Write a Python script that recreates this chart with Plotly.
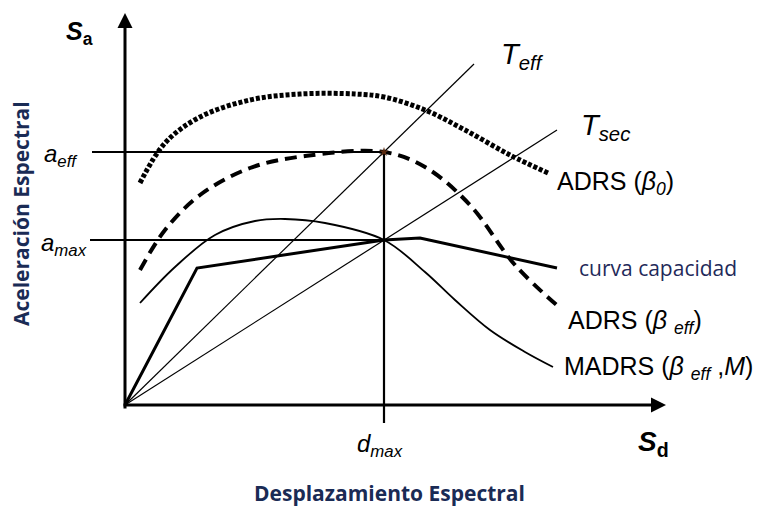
import plotly.graph_objects as go

# Data (units: spectral displacement Sd, spectral acceleration Sa; arbitrary units)
d_max = 259
a_eff = 253
a_max = 165

# Capacity curve
cap_sd = [0, 72, 259, 295, 432]
cap_sa = [0, 137, 165, 167, 137]

# ADRS (beta_0) - dotted
adrs0_sd = [15, 40, 75, 125, 175, 230, 259, 300, 340, 385, 423]
adrs0_sa = [222, 262, 288, 305, 311, 311, 308, 295, 275, 250, 232]

# ADRS (beta_eff) - dashed
adrseff_sd = [15, 40, 75, 125, 180, 259, 300, 345, 390, 435]
adrseff_sa = [135, 175, 210, 237, 249, 253, 238, 200, 140, 97]

# MADRS (beta_eff, M) - thin solid
madrs_sd = [15, 50, 90, 130, 160, 200, 259, 300, 330, 365, 400, 428]
madrs_sa = [102, 138, 170, 184, 186, 182, 165, 133, 105, 75, 53, 38]

# Period lines
teff_sd = [0, 349]
teff_sa = [0, 341]
tsec_sd = [0, 432]
tsec_sa = [0, 275]

fig = go.Figure()

def line(x, y, width=1.5, dash="solid", shape="linear", color="black"):
    fig.add_trace(go.Scatter(x=x, y=y, mode="lines",
                             line=dict(color=color, width=width, dash=dash, shape=shape),
                             hoverinfo="skip", showlegend=False))

# reference lines a_eff, a_max, d_max
line([-33, d_max], [a_eff, a_eff], width=2)
line([-35, d_max], [a_max, a_max], width=2)
line([d_max, d_max], [-18, a_eff], width=2.2)

# period lines
line(teff_sd, teff_sa, width=1.2)
line(tsec_sd, tsec_sa, width=1.2)

# spectra
line(adrs0_sd, adrs0_sa, width=5, dash="4px,2px", shape="spline")
line(adrseff_sd, adrseff_sa, width=4, dash="12px,7px", shape="spline")
line(madrs_sd, madrs_sa, width=1.8, shape="spline")
line(cap_sd, cap_sa, width=3)

# performance point marker
fig.add_trace(go.Scatter(x=[d_max], y=[a_eff], mode="markers",
                         marker=dict(symbol="star", size=7, color="#5a2a10"),
                         hoverinfo="skip", showlegend=False))

# axes with arrows
fig.add_annotation(x=0, y=392, ax=0, ay=-5, xref="x", yref="y", axref="x", ayref="y",
                   showarrow=True, arrowhead=2, arrowsize=1, arrowwidth=3, arrowcolor="black", text="")
fig.add_annotation(x=541, y=0, ax=-3, ay=0, xref="x", yref="y", axref="x", ayref="y",
                   showarrow=True, arrowhead=2, arrowsize=1, arrowwidth=3, arrowcolor="black", text="")

F = "Liberation Sans, Arial"
def txt(x, y, t, size=16, color="black", xanchor="left", family=F, angle=0):
    fig.add_annotation(x=x, y=y, xref="x", yref="y", text=t, showarrow=False,
                       font=dict(size=size, color=color, family=family),
                       xanchor=xanchor, yanchor="middle", textangle=angle)

txt(-61, 372, "<b><i>S</i></b><b><sub>a</sub></b>", size=25)
txt(511, -38, "<b><i>S</i></b><b><sub>d</sub></b>", size=28)
txt(-83, 250, "<i>a<sub>eff</sub></i>", size=24)
txt(-86, 161, "<i>a<sub>max</sub></i>", size=24)
txt(255, -40, "<i>d<sub>max</sub></i>", size=24, xanchor="center")
txt(374, 349, "<i>T<sub>eff</sub></i>", size=29)
txt(454, 278, "<i>T<sub>sec</sub></i>", size=29)
txt(430, 222, "ADRS (<i>β<sub>0</sub></i>)", size=25)
txt(452, 137, "curva capacidad", size=21, color="#1f2a5a", family="Open Sans")
txt(441, 83, "ADRS (<i>β <sub>eff</sub></i>)", size=25)
txt(437, 37, "MADRS (<i>β <sub>eff</sub></i> ,<i>M</i>)", size=25)

txt(264, -88, "<b>Desplazamiento Espectral</b>", size=21, color="#1a2b55",
    family="Open Sans", xanchor="center")
txt(-104, 191, "<b>Aceleración Espectral</b>", size=21, color="#1a2b55",
    family="Open Sans", xanchor="center", angle=-90)

fig.update_layout(
    width=761, height=508,
    margin=dict(l=0, r=0, t=0, b=0),
    paper_bgcolor="white", plot_bgcolor="white",
    xaxis=dict(range=[-125, 636], visible=False, fixedrange=True),
    yaxis=dict(range=[-103, 405], visible=False, fixedrange=True),
)

# remove the default 8px page margin so the figure fills the window
fig.write_html("out.html", config={"displayModeBar": False},
               post_script="document.body.style.margin='0';")
